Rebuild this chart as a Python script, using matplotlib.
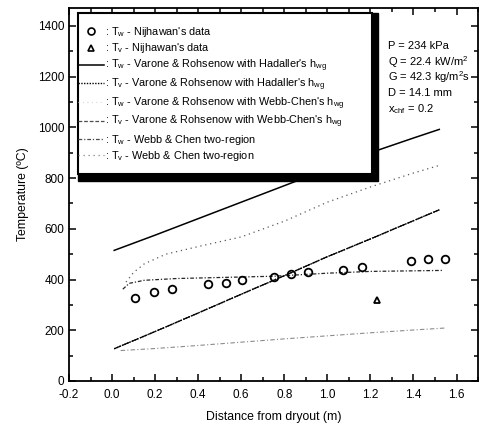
import matplotlib
matplotlib.use("Agg")
import matplotlib.pyplot as plt
from matplotlib.lines import Line2D
from matplotlib.patches import Rectangle
from matplotlib.ticker import MultipleLocator

plt.rcParams['font.family'] = ['Liberation Sans', 'DejaVu Sans']
plt.rcParams['mathtext.fontset'] = 'custom'
plt.rcParams['mathtext.rm'] = 'Liberation Sans'
plt.rcParams['mathtext.it'] = 'Liberation Sans'

# measured data (Nijhawan)
tw_x = [0.106, 0.194, 0.279, 0.446, 0.528, 0.605, 0.751, 0.833, 0.912, 1.075, 1.162, 1.387, 1.468, 1.548]
tw_y = [326, 351, 361, 384, 388, 398, 411, 421, 429, 439, 449, 472, 481, 482]
tv_x = [1.233]
tv_y = [319]

# Varone & Rohsenow, Hadaller's h_wg
vr_h_tw_x = [0.01, 0.2, 0.4, 0.6, 0.8, 1.0, 1.2, 1.4, 1.52]
vr_h_tw_y = [515, 575, 640, 705, 770, 835, 900, 958, 992]
# vapour temperature (same for both h_wg)
vr_tv_x = [0.01, 0.2, 0.4, 0.6, 0.8, 1.0, 1.2, 1.4, 1.52]
vr_tv_y = [127, 195, 268, 342, 415, 490, 560, 632, 675]
# Varone & Rohsenow, Webb-Chen's h_wg
vr_wc_tw_x = [0.065, 0.1, 0.15, 0.25, 0.4, 0.6, 0.8, 1.0, 1.2, 1.4, 1.52]
vr_wc_tw_y = [390, 428, 462, 500, 530, 568, 630, 705, 765, 820, 850]
# Webb & Chen two-region
wc_tw_x = [0.05, 0.08, 0.15, 0.3, 0.5, 0.75, 1.0, 1.2, 1.54]
wc_tw_y = [362, 385, 397, 404, 408, 413, 425, 432, 436]
wc_tv_x = [0.04, 0.2, 0.4, 0.6, 0.8, 1.0, 1.2, 1.4, 1.55]
wc_tv_y = [120, 128, 140, 153, 166, 178, 190, 201, 209]

labels = [
    r": $\mathrm{T_w}$ - Nijhawan's data",
    r": $\mathrm{T_v}$ - Nijhawan's data",
    r": $\mathrm{T_w}$ - Varone & Rohsenow with Hadaller's $\mathrm{h_{wg}}$",
    r": $\mathrm{T_v}$ - Varone & Rohsenow with Hadaller's $\mathrm{h_{wg}}$",
    r": $\mathrm{T_w}$ - Varone & Rohsenow with Webb-Chen's $\mathrm{h_{wg}}$",
    r": $\mathrm{T_v}$ - Varone & Rohsenow with Webb-Chen's $\mathrm{h_{wg}}$",
    r": $\mathrm{T_w}$ - Webb & Chen two-region",
    r": $\mathrm{T_v}$ - Webb & Chen two-region",
]

fig = plt.figure(figsize=(4.79, 4.30), dpi=100)
ax = fig.add_axes([0.144, 0.114, 0.854, 0.867])

ax.plot(tw_x, tw_y, 'o', mfc='none', mec='k', ms=5.5, mew=1.3, zorder=4)
ax.plot(tv_x, tv_y, '^', mfc='none', mec='k', ms=5, mew=1.3, zorder=4)
ax.plot(vr_h_tw_x, vr_h_tw_y, '-', color='k', lw=1.1)
ax.plot(vr_tv_x, vr_tv_y, ls=(0, (1, 1)), color='k', lw=1.0)
ax.plot(vr_tv_x, vr_tv_y, ls=(0, (6, 1.5)), color='k', lw=0.9)
ax.plot(vr_wc_tw_x, vr_wc_tw_y, ls=(0, (1, 3)), color='0.35', lw=0.9)
ax.plot(wc_tw_x, wc_tw_y, ls=(0, (3, 1.5, 1, 1.5)), color='0.15', lw=0.9)
ax.plot(wc_tv_x, wc_tv_y, ls=(0, (4, 2, 1, 2)), color='0.55', lw=0.8)

ax.set_xlim(-0.2, 1.7)
ax.set_ylim(0, 1470)
ax.xaxis.set_major_locator(MultipleLocator(0.2))
ax.xaxis.set_minor_locator(MultipleLocator(0.1))
ax.yaxis.set_major_locator(MultipleLocator(200))
ax.yaxis.set_minor_locator(MultipleLocator(100))
ax.tick_params(which='both', direction='in', top=True, right=True, labelsize=8.5, width=1.1)
ax.tick_params(which='major', length=5)
ax.tick_params(which='minor', length=3)
ax.tick_params(axis='x', pad=6)
ax.set_xticks([-0.2, 0.0, 0.2, 0.4, 0.6, 0.8, 1.0, 1.2, 1.4, 1.6])
ax.set_xticklabels(['-0.2', '0.0', '0.2', '0.4', '0.6', '0.8', '1.0', '1.2', '1.4', '1.6'])
for s in ax.spines.values():
    s.set_linewidth(1.3)
ax.set_xlabel('Distance from dryout (m)', fontsize=8.8, labelpad=7)
ax.set_ylabel('Temperature (ºC)', fontsize=8.8, labelpad=6)

# legend box with thick shadow on right and bottom
x0, y0, w, h = 0.022, 0.555, 0.719, 0.432
ax.add_patch(Rectangle((x0, y0 - 0.019), w + 0.015, h + 0.019, transform=ax.transAxes,
                       facecolor='k', edgecolor='k', zorder=5))
ax.add_patch(Rectangle((x0, y0), w, h, transform=ax.transAxes,
                       facecolor='white', edgecolor='k', lw=1.5, zorder=6))

handles = [
    Line2D([], [], ls='none', marker='o', mfc='none', mec='k', ms=5, mew=1.2),
    Line2D([], [], ls='none', marker='^', mfc='none', mec='k', ms=5, mew=1.2),
    Line2D([], [], ls='-', color='k', lw=1.1),
    Line2D([], [], ls=(0, (1, 1)), color='k', lw=1.0),
    Line2D([], [], ls=(0, (1, 3)), color='0.85', lw=0.8),
    Line2D([], [], ls=(0, (3, 1.5)), color='0.3', lw=0.9),
    Line2D([], [], ls=(0, (3, 1.5, 1, 1.5)), color='0.3', lw=0.9),
    Line2D([], [], ls=(0, (1, 3)), color='0.5', lw=0.9),
]
leg = ax.legend(handles, labels, loc='upper left', bbox_to_anchor=(0.022, 0.955),
                frameon=False, fontsize=7.8, borderpad=0, borderaxespad=0,
                handlelength=2.4, handletextpad=0.1, labelspacing=0.22)
leg.set_zorder(7)

info = ['P = 234 kPa', r'Q = 22.4 kW/m$^2$', r'G = 42.3 kg/m$^2$s', 'D = 14.1 mm',
        r'x$_{\mathrm{chf}}$ = 0.2']
for i, t in enumerate(info):
    ax.text(0.78, 0.898 - i * 0.042, t, transform=ax.transAxes, fontsize=8,
            va='center', ha='left', zorder=7)

fig.savefig('out.png', dpi=100)
